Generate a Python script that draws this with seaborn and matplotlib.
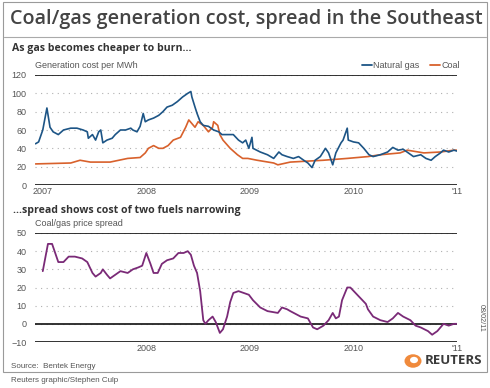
import pandas as pd
import matplotlib
matplotlib.use("Agg")
import matplotlib.pyplot as plt
import seaborn as sns
from matplotlib.patches import Rectangle, Circle
from matplotlib.lines import Line2D

# generation cost per MWh, decimal years
gas_year = [2006.93, 2006.96, 2007.00, 2007.04, 2007.07, 2007.10, 2007.15, 2007.20, 2007.27,
            2007.33, 2007.39, 2007.43, 2007.44, 2007.48, 2007.51, 2007.54, 2007.56, 2007.58,
            2007.62, 2007.67, 2007.70, 2007.75, 2007.80, 2007.85, 2007.87, 2007.91, 2007.94,
            2007.97, 2007.99, 2008.02, 2008.07, 2008.12, 2008.16, 2008.20, 2008.25, 2008.30,
            2008.35, 2008.40, 2008.43, 2008.44, 2008.47, 2008.49, 2008.52, 2008.55, 2008.60,
            2008.65, 2008.70, 2008.73, 2008.78, 2008.84, 2008.89, 2008.93, 2008.96, 2008.99,
            2009.02, 2009.03, 2009.10, 2009.17, 2009.23, 2009.28, 2009.31, 2009.36, 2009.42,
            2009.47, 2009.52, 2009.56, 2009.60, 2009.63, 2009.68, 2009.73, 2009.76, 2009.80,
            2009.83, 2009.88, 2009.90, 2009.94, 2009.95, 2010.00, 2010.05, 2010.10, 2010.15,
            2010.19, 2010.26, 2010.33, 2010.38, 2010.43, 2010.48, 2010.53, 2010.58, 2010.65,
            2010.70, 2010.75, 2010.79, 2010.84, 2010.87, 2010.92, 2010.97, 2011.00]
gas_cost = [45, 47, 60, 84, 63, 58, 55, 60, 62,
            62, 60, 58, 51, 55, 49, 58, 60, 46,
            49, 51, 55, 60, 60, 62, 60, 58, 64,
            78, 69, 71, 73, 76, 80, 85, 87, 91,
            96, 100, 102, 96, 85, 78, 69, 65, 64,
            60, 58, 55, 55, 55, 49, 46, 49, 40,
            52, 40, 36, 33, 29, 36, 33, 31, 29,
            31, 27, 24, 19, 27, 31, 40, 35, 22,
            35, 46, 49, 62, 49, 47, 46, 40, 33,
            31, 33, 36, 41, 38, 39, 35, 31, 33,
            29, 27, 31, 35, 38, 36, 38, 37]

coal_year = [2006.93, 2007.27, 2007.36, 2007.46, 2007.65, 2007.82, 2007.94, 2007.99, 2008.02,
             2008.07, 2008.12, 2008.16, 2008.21, 2008.26, 2008.33, 2008.38, 2008.41, 2008.44,
             2008.47, 2008.50, 2008.55, 2008.60, 2008.64, 2008.65, 2008.69, 2008.71, 2008.74,
             2008.81, 2008.88, 2008.93, 2008.98, 2009.07, 2009.23, 2009.27, 2009.39, 2009.71,
             2009.94, 2010.14, 2010.26, 2010.45, 2010.52, 2010.68, 2010.84, 2010.97, 2011.00]
coal_cost = [23, 24, 27, 25, 25, 29, 30, 35, 40,
             43, 40, 40, 43, 49, 52, 63, 71, 67,
             63, 69, 65, 58, 63, 69, 65, 55, 49,
             40, 33, 29, 29, 27, 24, 22, 25, 27,
             29, 31, 33, 35, 38, 35, 36, 38, 38]

# coal/gas price spread
spread_year = [2007.00, 2007.05, 2007.09, 2007.12, 2007.15, 2007.20, 2007.25, 2007.31, 2007.38,
               2007.43, 2007.48, 2007.51, 2007.56, 2007.58, 2007.62, 2007.65, 2007.70, 2007.75,
               2007.82, 2007.87, 2007.92, 2007.96, 2008.00, 2008.04, 2008.07, 2008.11, 2008.15,
               2008.20, 2008.26, 2008.31, 2008.36, 2008.40, 2008.43, 2008.46, 2008.49, 2008.52,
               2008.55, 2008.57, 2008.60, 2008.64, 2008.67, 2008.71, 2008.74, 2008.78, 2008.81,
               2008.84, 2008.89, 2008.94, 2008.99, 2009.03, 2009.10, 2009.17, 2009.27, 2009.31,
               2009.36, 2009.39, 2009.49, 2009.56, 2009.61, 2009.65, 2009.71, 2009.76, 2009.80,
               2009.83, 2009.86, 2009.89, 2009.94, 2009.97, 2010.02, 2010.07, 2010.12, 2010.14,
               2010.19, 2010.26, 2010.33, 2010.38, 2010.43, 2010.48, 2010.55, 2010.60, 2010.65,
               2010.72, 2010.76, 2010.81, 2010.87, 2010.92, 2010.97, 2011.00]
spread_value = [29, 44, 44, 39, 34, 34, 37, 37, 36,
                34, 28, 26, 28, 30, 27, 25, 27, 29,
                28, 30, 31, 32, 39, 33, 28, 28, 33,
                35, 36, 39, 39, 40, 38, 32, 28, 18,
                2, 0, 2, 4, 1, -5, -3, 4, 12,
                17, 18, 17, 16, 13, 9, 7, 6, 9,
                8, 7, 4, 3, -2, -3, -1, 2, 6,
                3, 4, 13, 20, 20, 17, 14, 11, 8,
                4, 2, 1, 3, 6, 4, 2, -1, -2,
                -4, -6, -4, 0, -1, 0, 0]

year_ticks = [2007, 2008, 2009, 2010, 2011]
top_labels = ["2007", "2008", "2009", "2010", "'11"]
bottom_labels = ["", "2008", "2009", "2010", "'11"]

GAS = "#1d5586"
COAL = "#d8612c"
SPREAD = "#7a2a77"
GREY = "#555555"

sns.set_style("white")
plt.rcParams["font.family"] = ["Liberation Sans", "DejaVu Sans"]

W, H = 490, 388
fig = plt.figure(figsize=(W / 100, H / 100), dpi=100)


def fx(px):
    return px / W


def fy(py):
    return 1 - py / H


cost = pd.concat([
    pd.DataFrame({"year": gas_year, "cost": gas_cost, "fuel": "Natural gas"}),
    pd.DataFrame({"year": coal_year, "cost": coal_cost, "fuel": "Coal"}),
])
spread = pd.DataFrame({"year": spread_year, "spread": spread_value})

x0, x1 = 2006.925, 2011.0

# top panel
ax1 = fig.add_axes([fx(35), fy(185), fx(457) - fx(35), fy(75) - fy(185)])
sns.lineplot(data=cost, x="year", y="cost", hue="fuel", palette={"Natural gas": GAS, "Coal": COAL},
             hue_order=["Coal", "Natural gas"], lw=1.2, legend=False, ax=ax1)
ax1.set_xlim(x0, x1)
ax1.set_ylim(0, 120)
ax1.set_yticks(range(0, 121, 20))
ax1.set_xticks(year_ticks)
ax1.set_xticklabels(top_labels)

# bottom panel
ax2 = fig.add_axes([fx(35), fy(342), fx(457) - fx(35), fy(233) - fy(342)])
sns.lineplot(data=spread, x="year", y="spread", color=SPREAD, lw=1.3, ax=ax2)
ax2.set_xlim(x0, x1)
ax2.set_ylim(-10, 50)
ax2.set_yticks(range(-10, 51, 10))
ax2.set_xticks(year_ticks)
ax2.set_xticklabels(bottom_labels)

for ax, blacks in ((ax1, (0, 120)), (ax2, (-10, 0, 50))):
    for s in ax.spines.values():
        s.set_visible(False)
    ax.set_xlabel("")
    ax.set_ylabel("")
    ax.yaxis.grid(True, color="#b0b0b0", linestyle=(0, (1, 4)), lw=0.8)
    ax.set_axisbelow(True)
    for b in blacks:
        ax.axhline(b, color="#222222", lw=1.3, zorder=1)
    ax.tick_params(axis="both", length=0, labelsize=6.5, labelcolor=GREY)
    ax.tick_params(axis="y", pad=6)
    ax.tick_params(axis="x", pad=1.5)
    for lab in ax.get_yticklabels():
        lab.set_horizontalalignment("right")

# frame and title rule
fig.patches.append(Rectangle((fx(3), fy(372)), fx(484), 370 / H, transform=fig.transFigure,
                             fill=False, edgecolor="#9a9a9a", lw=0.8))
fig.lines.append(Line2D([fx(4), fx(486)], [fy(37), fy(37)], transform=fig.transFigure, color="#aaaaaa", lw=0.8))

title = fig.text(fx(10), fy(19), "Coal/gas generation cost, spread in the Southeast", fontsize=18,
                 color="#444444", va="center", ha="left", family=["Open Sans", "DejaVu Sans"],
                 fontweight="semibold")
fig.canvas.draw()
tw = title.get_window_extent(fig.canvas.get_renderer()).width
title.set_fontsize(18 * 472 / tw)

fig.text(fx(12), fy(49), "As gas becomes cheaper to burn...", fontsize=7.6, fontweight="bold",
         color="#333333", va="center", family=["Open Sans", "DejaVu Sans"])
fig.text(fx(35), fy(66), "Generation cost per MWh", fontsize=6.5, color=GREY, va="center")
fig.text(fx(13), fy(210), "...spread shows cost of two fuels narrowing", fontsize=7.6, fontweight="bold",
         color="#333333", va="center", family=["Open Sans", "DejaVu Sans"])
fig.text(fx(35), fy(224), "Coal/gas price spread", fontsize=6.5, color=GREY, va="center")

handles = [Line2D([], [], color=GAS, lw=1.3), Line2D([], [], color=COAL, lw=1.3)]
fig.legend(handles, ["Natural gas", "Coal"], loc="center right", bbox_to_anchor=(fx(460), fy(66)),
           ncol=2, frameon=False, fontsize=6.5, handlelength=1.1, handletextpad=0.15,
           columnspacing=1.2, labelcolor=GREY, borderpad=0, borderaxespad=0)

fig.text(fx(11), fy(366), "Source:  Bentek Energy", fontsize=5.8, color=GREY, va="center")
fig.text(fx(11), fy(381), "Reuters graphic/Stephen Culp", fontsize=5.8, color=GREY, va="center")
fig.text(fx(481), fy(318), "08/02/11", fontsize=5.2, color=GREY, rotation=270, ha="center", va="center")

# logo
fig.patches.append(Circle((fx(413), fy(361)), 8.5 / W, transform=fig.transFigure, color="#f08a3c", lw=0))
fig.patches.append(Circle((fx(414), fy(360)), 4 / W, transform=fig.transFigure, color="white", lw=0))
fig.text(fx(425), fy(361), "REUTERS", fontsize=9.5, fontweight="bold", color="#3a3a3a", va="center",
         family=["Open Sans", "DejaVu Sans"])

fig.savefig("out.png", dpi=100)
